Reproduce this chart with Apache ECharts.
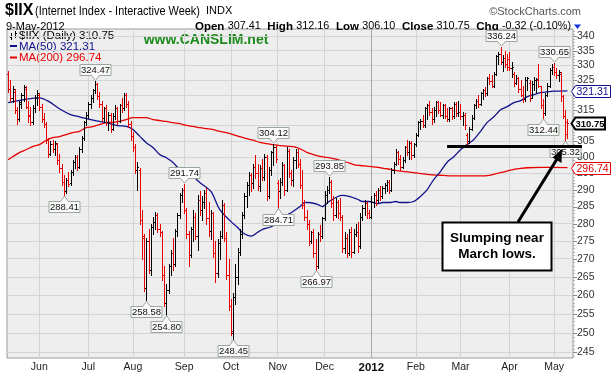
<!DOCTYPE html>
<html><head><meta charset="utf-8">
<script src="https://cdn.jsdelivr.net/npm/echarts@6/dist/echarts.min.js"></script>
<style>html,body{margin:0;padding:0;background:#fff}#c{width:615px;height:376px}</style>
</head><body><div id="c"></div>
<script>
// ---- data ----
const startDate = '2011-05-11', endDate = '2012-05-09';
const holidays = ['2011-05-30','2011-07-04','2011-09-05','2011-11-24','2011-12-26','2012-01-02','2012-01-16','2012-02-20','2012-04-06'];
const monthNames = ['2012','Feb','Mar','Apr','May','Jun','Jul','Aug','Sep','Oct','Nov','Dec'];
const yTicks = [245,250,255,260,265,270,275,280,285,290,295,300,305,310,315,320,325,330,335,340];
// [open, high, low, close] per trading day
const ohlc = [
[327,328,321,322],[322,325,318,319],[319,323,317.5,322],[321,322,314,315],[315,316,310.5,312],
[312,318,311.5,317.5],[317,320.5,315.5,320],[320,323.3,318,322.5],[322,323,315.5,316],[316,318,311,313.5],
[313,316,310.2,311],[311,316.5,310.5,315.5],[315.5,320,314.5,319],[319,321.5,316.5,320.5],[320,320.5,315,316],
[316,317,311,312],[312,314,309.5,310.5],[310.5,311,304.5,305.5],[305.5,306,300,301],[301,305,300.5,304],
[304,305.5,301.5,302.5],[302.5,305,300.5,304.5],[304,304.5,298,299],[299,301,295.5,296.5],[296.5,298,291.5,292.5],
[292.5,294.5,288.41,289.5],[289.5,293.5,289,293],[293,295.5,291,291.8],[292,296,291.5,295.5],[295.5,299,294.5,298.5],
[298.5,300.5,296.5,300],[300,300.5,296,297],[297,303,296.5,302.5],[302.5,306.5,301.5,306],[306,311.5,305.5,311],
[311,314.5,310,313.5],[313.5,317.5,312.5,317],[317,320,315.5,319],[319,322,317.5,321.5],[321.5,324.47,320.5,323.5],
[323.5,324,318.5,319.5],[319.5,321,316,317],[317,318,311.5,312.5],[312.5,316,311,315.5],[315.5,316.5,310,311],
[311,314.5,308.5,313.5],[313.5,314,308,309],[309,314,308.5,313],[313,316.5,312,315.5],[315.5,316,310.5,311.5],
[311.5,317,311,316.5],[316.5,319,314.5,315.5],[315.5,320.5,315,320],[320,320.5,316,317],[317,318,309.5,310.5],
[310.5,311.5,305.5,306.5],[306.5,308,302,303],[303,304,295,296],[296,298.5,290,297],[296,296.5,280,281],
[281,284,270,276.5],[276,277,261,262],[262,276,258.58,275],[275,278.5,266,267],[267,280,265.5,279],
[279,282,277,280.5],[280.5,283.5,278.5,282.5],[282.5,283,277.5,278.5],[278.5,280,276.5,277.5],[277.5,278,264,265.5],
[265.5,268,257,258],[258,263,254.8,261.5],[261.5,268.5,260.5,268],[268,272.5,265.5,271.5],[271.5,276,267,268.5],
[268.5,278.5,268,278],[278,283,276.5,282.5],[282.5,289,281.5,288.5],[288.5,290.5,286.5,290],[290,291.74,283,284],
[284,284.5,276,277],[277,278,268,271],[271,279,270.5,278.5],[278.5,284,275,282],[282,283,275.5,276.5],
[276.5,288.5,272.5,287],[287,289.5,282.5,284],[284,288,281,286.5],[286.5,290,284.5,289],[289,290.5,280,281.5],
[281.5,286.5,276.5,278],[278,284,275.5,283],[283,283.5,270.5,271.5],[271.5,275,263.5,266],[266,275.5,265,274.5],
[274.5,278,270,276.5],[276.5,287,276,285.5],[285.5,286,275,276],[276,277.5,264.5,265.5],[265.5,270,256,257],
[257,259,249.5,250.5],[250,260.5,248.45,259.5],[259.5,268.5,257.5,265],[265,273,263,272],[272,278.5,271,277],
[277,283.5,276,282.5],[282.5,289,281.5,288],[288,292.5,285,291.5],[291.5,295.5,288.5,294.5],[294.5,295,289.5,292],
[292,298,290.5,297],[297,300.5,293.5,295],[295,298,290,291],[291,297.5,289.5,296.5],[296.5,299.5,293,294],
[294,301,293,300],[300,300.5,287,288],[288,297,287.5,296],[296,302,294.5,301.5],[301.5,304.12,297.5,303],
[303,303.5,298.5,299.5],[292,293,284.71,289.5],[289.5,293.5,287.5,292.5],[292.5,298.5,291.5,297.5],[297.5,298,288.5,290],
[290,303,289.5,302],[302,302.5,294,295],[295,296,291.5,293],[293,300,291,299],[299,302.5,296.5,301.5],
[301.5,302.5,297,298],[298,299.5,290.5,291.5],[291.5,296,284.5,285.5],[285.5,287,281,282],[282,284,278.5,280],
[280,281,274,275],[275,278,274.5,277.5],[277.5,278.5,270.5,271.5],[271.5,275.5,266.97,268],[268,277.5,267.5,277],
[277,279.5,275,276.5],[276.5,282,276,281.5],[281.5,289.5,281,288.5],[288.5,291,286,290],[290,293.85,289,292.5],
[292.5,293,285,286],[286,288,281,282.5],[282.5,287.5,282,286.5],[286.5,287,281.5,283],[283,287.5,281,282],
[282,282.5,272,273],[273,277.5,271.5,276],[276,277,270.5,271.5],[271.5,278.5,271,277.5],[277.5,279,270.5,272],
[272,278.5,271.5,277],[277,280,276.5,277.5],[277.5,280.5,272,273.5],[273.5,283,273,282],[282,285.5,281,284.5],
[284.5,287,282.5,286],[286,286.5,281.5,283],[283,284,281.5,282],[282,288,281.5,286.5],[286.5,289,285,288.5],
[288.5,289.5,285.5,287],[287,290.5,286.5,290],[290,291,287,288],[288,291,287.5,290.5],[290.5,292,289,291.5],
[291.5,293,289.5,292.5],[292.5,293,289,290],[290,296.5,289.5,296],[296,298.5,295,298],[298,302.5,297.5,301.5],
[301.5,302,298,299.5],[299.5,300.5,296,297],[297,300,296.5,299],[299,303.5,298.5,303],[303,305.5,300.5,301.5],
[301.5,305,299.5,304.5],[304.5,305,299.5,300.5],[300.5,304.5,300,304],[304,307.5,303.5,307],[307,311.5,306.5,311],
[311,312,309,311.5],[311.5,313.5,309.5,310],[310,316,309.5,315.5],[315.5,317,312,316.5],[316.5,318,313.5,314.5],
[314.5,315.5,310.5,312],[312,316,311,315],[315,318,313,317.5],[317.5,318,314,315],[315,317.5,313,313.5],
[313.5,317,312.5,316.5],[316.5,317,312.5,313],[313,315.5,311.5,312],[312,316,311.5,315.5],[315.5,316,312,313],
[313,317.5,312.5,317],[317,317.5,313,314],[314,318,313,314.5],[314.5,317,312,313],[313,314.5,310,313.5],
[313.5,314,309,310],[307,307.5,303.8,305],[305,309.5,304.5,309],[309,313.5,308.5,312.5],[312.5,317,312,316.5],
[316.5,318.5,315.5,318],[318,320,316,317],[317,321,316.5,320.5],[320.5,322,318.5,321.5],[321.5,322.5,319.5,320.5],
[320.5,326,320,325.5],[325.5,327,323.5,324.5],[324.5,326.5,322.5,323],[323,327.5,322.5,327],[327,333.5,326.5,333],
[333,334.5,330.5,334],[334,336.24,330.5,331],[331,333.5,328,332.5],[332.5,335,329.5,330.5],[330.5,334,328.5,329.5],
[332,334.5,328.5,329],[329,331,326,329.5],[327,327.5,323,324],[324,326.5,323.5,325.5],[325.5,326,321,322],
[322,325,319.5,320],[320,323,317.5,318.5],[318.5,326,318,325],[325,326,321.5,325.5],[324,325,318,319],
[319,324.5,319,323.5],[323.5,326,321.5,325],[325,325.5,321,325.2],[325,330.5,322.5,323],[323,323,315.5,316.5],
[316.5,318.5,312.44,314],[314,320.5,313.5,320],[320,324,319.5,323],[323,329,322.5,328.5],[328.5,330.5,327,329.5],
[329.5,330.65,326.5,327.5],[327.5,329,325.5,326.5],[326.5,328.5,324.5,327.5],[327,327.5,318,319.5],[319.5,320,312.5,313],
[313,315,305.32,311.07],[307.41,312.16,306.1,310.75]
];
// moving averages: [day index, value]
const ma50 = [[0,317.4],[14,319.0],[18,317.9],[23,315.4],[28,313.5],[32,312.8],[37,311.9],[41,311.3],[44,310.9],[47,310.3],[50,309.9],[53,309.7],[56,308.7],[59,306.6],[62,304.5],[65,303.0],[68,300.8],[71,299.8],[74,298.3],[77,296.2],[82,294.6],[86,292.2],[91,289.5],[95,284.1],[100,280.6],[103,278.9],[105,277.5],[109,276.4],[112,277.5],[114,278.3],[118,279.1],[121,280.3],[123,281.7],[127,283.2],[131,285.0],[133,286.2],[135,286.2],[139,285.6],[141,285.0],[144,286.5],[148,288.0],[150,288.3],[153,288.0],[157,287.1],[159,286.5],[162,286.5],[166,285.9],[168,286.2],[171,286.2],[174,286.5],[176,286.2],[179,286.2],[182,286.5],[185,288.0],[188,290.0],[191,293.1],[194,295.5],[197,298.4],[200,300.1],[203,302.3],[206,303.9],[209,305.5],[212,308.1],[215,311.0],[218,312.8],[221,315.1],[224,316.1],[227,317.4],[230,318.1],[233,319.4],[236,320.1],[239,320.7],[242,321.0],[245,321.2],[251,321.31]];
const ma200 = [[0,299.2],[2,300.1],[5,301.4],[8,302.3],[11,303.3],[14,303.9],[17,305.2],[20,306.1],[23,306.4],[26,307.1],[29,307.7],[32,308.1],[35,309.3],[38,309.6],[41,310.3],[44,310.9],[47,311.0],[50,311.3],[53,311.9],[56,312.5],[59,312.5],[62,312.5],[65,311.9],[68,311.6],[71,311.3],[74,310.9],[77,310.6],[80,310.0],[83,309.7],[86,309.3],[89,309.0],[92,308.7],[95,308.1],[98,307.7],[101,307.1],[104,306.4],[107,305.8],[110,305.3],[113,304.6],[116,304.2],[119,303.9],[122,303.6],[125,303.4],[128,303.3],[131,302.6],[134,301.5],[137,300.8],[140,300.2],[143,299.9],[146,299.5],[149,299.0],[152,298.4],[155,297.7],[158,297.4],[161,297.2],[164,297.0],[167,296.7],[170,296.4],[173,296.0],[176,295.7],[182,295.2],[188,294.7],[194,294.4],[200,294.2],[206,294.2],[212,294.2],[216,294.4],[221,295.2],[224,295.7],[227,296.2],[230,296.5],[233,296.7],[239,296.8],[244,296.8],[251,296.74]];
const highMarks = [[39,324.47],[79,291.74],[119,304.12],[144,293.85],[221,336.24],[245,330.65]];
const lowMarks = [[25,288.41],[62,258.58],[71,254.80],[101,248.45],[121,284.71],[138,266.97],[240,312.44],[250,305.32]];
const marchLow = 303.6;
const lastClose = 310.75, lastMA50 = 321.31, lastMA200 = 296.74;

// ---- categories ----
const dates = [];
(function(){
  const d = new Date(startDate + 'T00:00:00Z'), e = new Date(endDate + 'T00:00:00Z');
  while (d <= e) {
    const s = d.toISOString().slice(0,10), w = d.getUTCDay();
    if (w !== 0 && w !== 6 && holidays.indexOf(s) < 0) dates.push(s);
    d.setUTCDate(d.getUTCDate() + 1);
  }
})();
const cats = dates.concat(['', '']);
const monthAt = {};
for (let i = 1; i < dates.length; i++) {
  if (dates[i].slice(5,7) !== dates[i-1].slice(5,7)) monthAt[i] = monthNames[(+dates[i].slice(5,7)) - 1];
}
const FONT = '"Liberation Sans", Arial, sans-serif';
const RED = '#e80000', BLUE = '#10108c';

const barData = ohlc.map((b, i) => [i, b[0], b[1], b[2], b[3], (i === 0 ? b[3] < b[0] : b[3] < ohlc[i-1][3]) ? 1 : 0]);
const markData = highMarks.map(m => [m[0], m[1], 1]).concat(lowMarks.map(m => [m[0], m[1], 0]));

const gridLines = yTicks.map(v => ({yAxis: v, lineStyle: {color: '#d4d4d4', width: 1, type: 'solid'},
  label: {show: true, position: 'end', distance: 4, formatter: String(v), color: '#333', fontSize: 10.5, fontFamily: FONT}}))
  .concat(Object.keys(monthAt).map(k => ({xAxis: dates[k], lineStyle: {color: monthAt[k] === '2012' ? '#a8a8a8' : '#d4d4d4', width: 1, type: 'solid'}, label: {show: false}})));

const chart = echarts.init(document.getElementById('c'), null, {renderer: 'canvas'});
chart.setOption({
  animation: false,
  grid: {left: 7, right: 42, top: 29, bottom: 18, show: true, backgroundColor: '#eeeeee', borderColor: '#9a9a9a', borderWidth: 1},
  xAxis: {type: 'category', data: cats, boundaryGap: true,
    axisLine: {show: false}, axisTick: {show: false}, splitLine: {show: false},
    axisLabel: {interval: (i) => monthAt[i] != null, margin: 4, color: '#222', fontSize: 10.5, fontFamily: FONT,
      formatter: (v, i) => monthAt[i] === '2012' ? '{y|2012}' : (monthAt[i] || ''),
      rich: {y: {fontWeight: 'bold', fontSize: 11.5, fontFamily: FONT, color: '#111'}}}},
  yAxis: {type: 'log', logBase: 10, min: 243.6, max: 342.6, position: 'right',
    axisLine: {show: false}, axisTick: {show: false}, axisLabel: {show: false}, splitLine: {show: false}},
  series: [
    {type: 'line', data: ohlc.map(b => b[3]), symbol: 'none', lineStyle: {opacity: 0}, silent: true, z: 1,
      markLine: {silent: true, symbol: ['none', 'none'], z: 1, animation: false, data: gridLines}},
    {type: 'line', data: ma200, symbol: 'none', smooth: 0.3, z: 3, lineStyle: {color: RED, width: 1.3}, silent: true},
    {type: 'line', data: ma50, symbol: 'none', smooth: 0.3, z: 3, lineStyle: {color: BLUE, width: 1.3}, silent: true},
    {type: 'custom', data: barData, z: 4, encode: {x: 0, y: [1,2,3,4]}, silent: true,
      renderItem: (params, api) => {
        const x = api.value(0);
        const h = api.coord([x, api.value(2)]), l = api.coord([x, api.value(3)]);
        const o = api.coord([x, api.value(1)]), c = api.coord([x, api.value(4)]);
        const cx = Math.round(h[0]) + 0.5;
        const col = api.value(5) ? RED : '#000';
        const st = {stroke: col, lineWidth: 1};
        const oy = Math.round(o[1]) + 0.5, cy = Math.round(c[1]) + 0.5;
        return {type: 'group', children: [
          {type: 'line', shape: {x1: cx, y1: Math.round(h[1]), x2: cx, y2: Math.round(l[1]) + 1}, style: st},
          {type: 'line', shape: {x1: cx - 1.5, y1: oy, x2: cx, y2: oy}, style: st},
          {type: 'line', shape: {x1: cx, y1: cy, x2: cx + 1.5, y2: cy}, style: st}
        ]};
      }},
    {type: 'custom', data: markData, z: 6, encode: {x: 0, y: 1}, silent: true,
      renderItem: (params, api) => {
        const p = api.coord([api.value(0), api.value(1)]);
        const hi = api.value(2) === 1;
        const w = 31, hh = 11;
        const cx = Math.round(p[0]) + 0.5;
        const by = hi ? Math.round(p[1]) - 6 - hh + 0.5 : Math.round(p[1]) + 6 + 0.5;
        const tri = hi ? [[cx - 4, by + hh], [cx + 4, by + hh], [cx, p[1] - 1]] : [[cx - 4, by], [cx + 4, by], [cx, p[1] + 1]];
        const sty = {fill: '#fafafa', stroke: '#9aa89a', lineWidth: 1};
        return {type: 'group', children: [
          {type: 'polygon', shape: {points: tri}, style: sty},
          {type: 'rect', shape: {x: cx - w / 2, y: by, width: w, height: hh}, style: sty},
          {type: 'polyline', shape: {points: hi ? [[cx - 3.5, by + hh], [cx + 3.5, by + hh]] : [[cx - 3.5, by], [cx + 3.5, by]]}, style: {stroke: '#fafafa', lineWidth: 1}},
          {type: 'text', style: {text: api.value(1).toFixed(2), x: cx, y: by + hh / 2 + 0.5, align: 'center', verticalAlign: 'middle', font: '9.5px ' + FONT, fill: '#111'}}
        ]};
      }}
  ]
});

// ---- annotations and header ----
const py = v => chart.convertToPixel({yAxisIndex: 0}, v);
function tag(v, color, bold, right) {
  const y = Math.round(py(v)) + 0.5, tip = 571.5;
  return [
    {type: 'polygon', z: 20, shape: {points: [[tip, y], [tip + 4, y - 6], [right, y - 6], [right, y + 6], [tip + 4, y + 6]]},
      style: {fill: '#fff', stroke: color, lineWidth: bold ? 2 : 1}},
    {type: 'text', z: 21, style: {text: v.toFixed(2), x: tip + (bold ? 4 : 5), y: y + 0.5, verticalAlign: 'middle', font: (bold ? 'bold 9.5px ' : '10.5px ') + FONT, fill: color}}
  ];
}
// right-axis tick marks (major at labels, minor every unit)
const ticks = [];
for (let v = 244; v <= 342; v++) {
  const y = Math.round(py(v)) + 0.5, major = v % 5 === 0;
  ticks.push({type: 'line', z: 2, shape: {x1: 573, y1: y, x2: major ? 577 : 575, y2: y}, style: {stroke: major ? '#888' : '#b0b0b0', lineWidth: 1}});
}
const lineY = Math.round(py(marchLow));
const g = [
  {type: 'text', style: {text: '$IIX', x: 5, y: 11, verticalAlign: 'middle', font: 'bold 16px ' + FONT, fill: '#000'}},
  {type: 'text', x: 35, scaleX: 0.84, style: {text: '(Internet Index - Interactive Week)', x: 0, y: 11, verticalAlign: 'middle', font: '13px ' + FONT, fill: '#000'}},
  {type: 'text', style: {text: 'INDX', x: 206, y: 11, verticalAlign: 'middle', font: '11px ' + FONT, fill: '#000'}},
  {type: 'text', style: {text: '\u00a9StockCharts.com', x: 581, y: 12, align: 'right', verticalAlign: 'middle', font: '11px ' + FONT, fill: '#555'}},
  {type: 'text', style: {text: '9-May-2012', x: 6, y: 26.5, verticalAlign: 'middle', font: '11px ' + FONT, fill: '#000'}},
  {type: 'text', style: {text: '{b|Open} {n|307.41}  {b|High} {n|312.16}  {b|Low} {n|306.10}  {b|Close} {n|310.75}  {b|Chg} {n|-0.32 (-0.10%)}',
    x: 571, y: 26.5, align: 'right', verticalAlign: 'middle',
    rich: {b: {font: 'bold 11.5px ' + FONT, fill: '#000'}, n: {font: '10.8px ' + FONT, fill: '#000'}}}},
  {type: 'polygon', shape: {points: [[574, 24.5], [581, 24.5], [577.5, 29]]}, style: {fill: '#1030e0'}},
  // legend inside plot
  {type: 'polyline', shape: {points: [[11.5, 33], [11.5, 40]]}, style: {stroke: '#000', lineWidth: 1}},
  {type: 'polyline', shape: {points: [[10, 37.5], [11.5, 37.5]]}, style: {stroke: '#000', lineWidth: 1}},
  {type: 'polyline', shape: {points: [[15.5, 31], [15.5, 38]]}, style: {stroke: '#000', lineWidth: 1}},
  {type: 'polyline', shape: {points: [[15.5, 33.5], [17, 33.5]]}, style: {stroke: '#000', lineWidth: 1}},
  {type: 'text', style: {text: '$IIX (Daily) 310.75', x: 19, y: 35.5, verticalAlign: 'middle', font: '11.5px ' + FONT, fill: '#000'}},
  {type: 'rect', shape: {x: 10, y: 45, width: 7, height: 2}, style: {fill: BLUE}},
  {type: 'text', style: {text: 'MA(50) 321.31', x: 19, y: 46.5, verticalAlign: 'middle', font: '11.5px ' + FONT, fill: BLUE}},
  {type: 'rect', shape: {x: 10, y: 56.5, width: 7, height: 2}, style: {fill: RED}},
  {type: 'text', style: {text: 'MA(200) 296.74', x: 19, y: 58, verticalAlign: 'middle', font: '11.5px ' + FONT, fill: RED}},
  {type: 'text', style: {text: 'www.CANSLIM.net', x: 206, y: 40.5, align: 'center', verticalAlign: 'middle', font: 'bold 14px ' + FONT, fill: '#1b8a1b'}},
  // march-low line, arrow and note
  {type: 'rect', z: 15, shape: {x: 447, y: lineY - 1, width: 135, height: 3}, style: {fill: '#000'}},
  {type: 'line', z: 15, shape: {x1: 518, y1: 222, x2: 557, y2: 159}, style: {stroke: '#000', lineWidth: 3}},
  {type: 'polygon', z: 15, shape: {points: [[562, 149], [552.5, 157.5], [561.5, 163]]}, style: {fill: '#000'}},
  {type: 'rect', z: 16, shape: {x: 442.5, y: 222.5, width: 109, height: 48}, style: {fill: '#fff', stroke: '#000', lineWidth: 2}},
  {type: 'text', z: 17, style: {text: 'Slumping near', x: 497, y: 238.5, align: 'center', verticalAlign: 'middle', font: 'bold 13.5px ' + FONT, fill: '#000'}},
  {type: 'text', z: 17, style: {text: 'March lows.', x: 497, y: 254.5, align: 'center', verticalAlign: 'middle', font: 'bold 13.5px ' + FONT, fill: '#000'}}
].concat(ticks, tag(lastMA50, BLUE, false, 610.5), tag(lastClose, '#000', true, 605), tag(lastMA200, RED, false, 610.5));
chart.setOption({graphic: g});
</script></body></html>
